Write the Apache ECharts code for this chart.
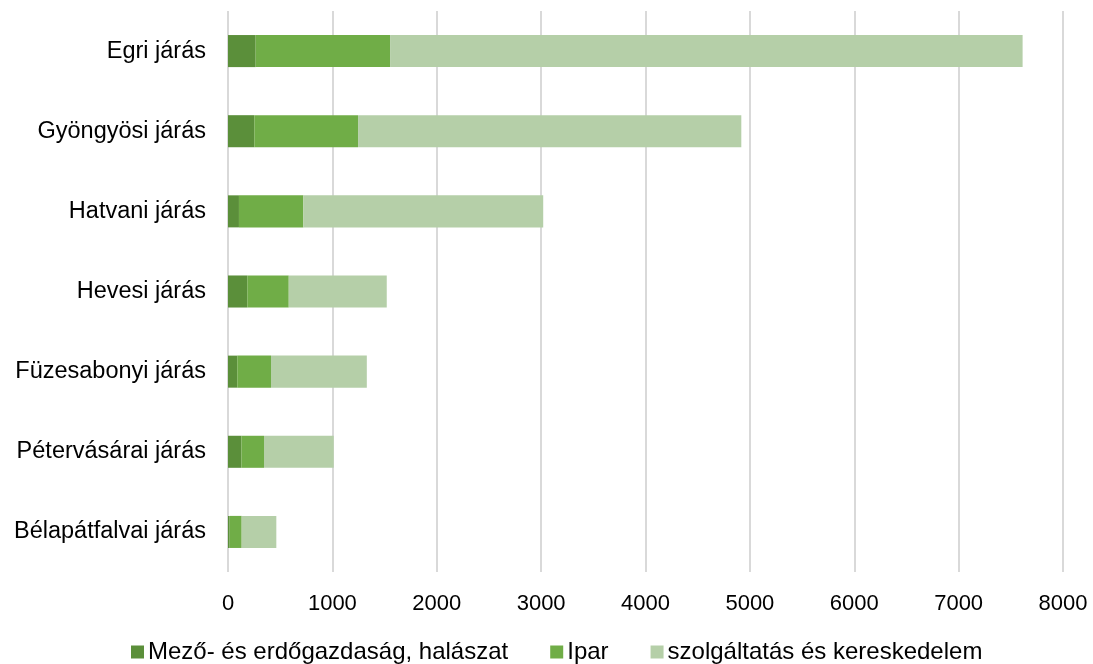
<!DOCTYPE html>
<html><head><meta charset="utf-8">
<script src="https://cdn.jsdelivr.net/npm/echarts@6/dist/echarts.min.js"></script>
<style>html,body{margin:0;padding:0;background:#fff}#c{width:1093px;height:664px}</style>
</head><body><div id="c"></div>
<script>
const categories = ["Egri járás","Gyöngyösi járás","Hatvani járás","Hevesi járás","Füzesabonyi járás","Pétervásárai járás","Bélapátfalvai járás"];
const seriesNames = ["Mező- és erdőgazdaság, halászat","Ipar","szolgáltatás és kereskedelem"];
const agri = [265, 252, 105, 185, 89, 128, 16];
const ipar = [1288, 994, 617, 397, 323, 217, 115];
const szolg = [6060, 3672, 2298, 939, 918, 668, 332];
const xTicks = [0,1000,2000,3000,4000,5000,6000,7000,8000];

const colors = ['#5b8f3a','#70ad47','#b5cfa8'];
const font = 'Liberation Sans, Arial, sans-serif';
const chart = echarts.init(document.getElementById('c'));
const data = [agri, ipar, szolg];
chart.setOption({
  animation:false,
  grid:{left:228,right:30,top:11,bottom:92,containLabel:false},
  legend:{top:635,left:126,itemWidth:13,itemHeight:13,itemGap:42,icon:'rect',
    textStyle:{fontFamily:font,fontSize:24,color:'#000',padding:[0,0,0,-1]},data:seriesNames},
  xAxis:{type:'value',min:xTicks[0],max:xTicks[xTicks.length-1],interval:1000,
    axisLine:{show:false},axisTick:{show:false},
    axisLabel:{fontFamily:font,fontSize:22,color:'#000',margin:21,formatter:v=>String(v)},
    splitLine:{lineStyle:{color:'#d9d9d9',width:2}}},
  yAxis:{type:'category',inverse:true,data:categories,
    axisLine:{show:false},axisTick:{show:false},
    axisLabel:{fontFamily:font,fontSize:23.5,color:'#000',margin:22}},
  series: seriesNames.map((n,i)=>({name:n,type:'bar',stack:'s',barWidth:'40%',
    itemStyle:{color:colors[i]},data:data[i]}))
});
</script></body></html>
